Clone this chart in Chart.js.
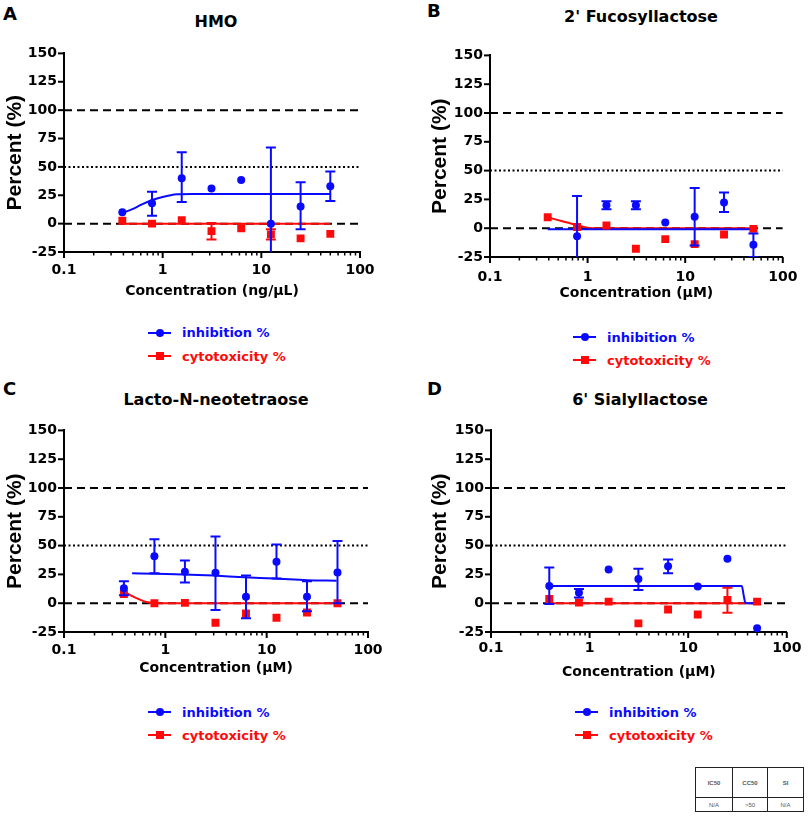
<!doctype html>
<html lang="en">
<head>
  <meta charset="utf-8">
  <title>HMO antiviral inhibition and cytotoxicity</title>
  <script src="https://cdn.jsdelivr.net/npm/chart.js@4.4.1/dist/chart.umd.min.js"></script>
  <style>
    body { margin: 0; background: #fff; font-family: "DejaVu Sans", sans-serif; }
    #page { position: relative; width: 809px; height: 817px; overflow: hidden; }
    #page canvas { position: absolute; }
    .txt { position: absolute; font-weight: bold; line-height: 1; white-space: nowrap; color: #000; }
    .letter { font-size: 18px; }
    .ptitle { font-size: 16px; transform: translateX(-50%); }
    .legtxt { font-size: 13px; }
    .legline { position: absolute; height: 2px; }
    .legmark { position: absolute; width: 8px; height: 8px; }
    table.res { position: absolute; left: 695px; top: 767px; border-collapse: collapse; font-family: "Liberation Sans", sans-serif; font-size: 6px; color: #555; }
    table.res td { border: 1px solid #222; text-align: center; padding: 0; }
  </style>
</head>
<body>
<div id="page">
  <table class="res">
    <tr style="height:30px"><td style="width:36px;font-weight:bold">IC50</td><td style="width:34px;font-weight:bold">CC50</td><td style="width:35px;font-weight:bold">SI</td></tr>
    <tr style="height:14px"><td>N/A</td><td>&gt;50</td><td>N/A</td></tr>
  </table>
</div>

<script>
// concentrations used in every panel
const conc = [0.39, 0.78, 1.56, 3.125, 6.25, 12.5, 25, 50];

// x axis ticks
const xMajorTicks = [0.1, 1, 10, 100];
const xTickLabels = ["0.1", "1", "10", "100"];
const xMinorTicks = [0.2, 0.3, 0.4, 0.5, 0.6, 0.7, 0.8, 0.9, 2, 3, 4, 5, 6, 7, 8, 9, 20, 30, 40, 50, 60, 70, 80, 90];

// A - HMO
const hmoInhib = [10, 18, 40, 31, 38.5, 0, 15, 33];
const hmoInhibLow = [null, 7, 19, null, null, -30, -5, 20];
const hmoInhibHigh = [null, 28, 63, null, null, 67, 36.5, 46];
const hmoCyto = [2.6, 0, 3, -6.6, -4, -9.5, -13, -9];
const hmoCytoLow = [null, null, null, -14, null, -14, null, null];
const hmoCytoHigh = [null, null, null, 0.5, null, -5, null, null];
const hmoInhibFitX = [0.39, 0.5, 0.6, 0.8, 1.0, 1.4, 2, 50];
const hmoInhibFitY = [9.5, 13, 16.5, 21, 23.5, 25.8, 26.2, 26.2];
const hmoCytoFitX = [0.39, 50];
const hmoCytoFitY = [0, 0];

// B - 2' Fucosyllactose
const fucInhib = [null, -7, 20, 20, 5, 10, 22.4, -14.4];
const fucInhibLow = [null, -30, 16.4, 16.5, null, -15, 14, -25];
const fucInhibHigh = [null, 28, 23.5, 23.5, null, 35, 31, -4.6];
const fucCyto = [9.5, 1, 2.3, -17.8, -9.5, -13.8, -5.5, -0.6];
const fucInhibFitX = [0.39, 50];
const fucInhibFitY = [-1, -1];
const fucCytoFitX = [0.39, 0.55, 0.8, 1.0, 1.3, 50];
const fucCytoFitY = [9.5, 6, 2.5, 0.5, 0, 0];

// C - Lacto-N-neotetraose
const lntInhib = [13, 40.8, 27.3, 26.4, 5.7, 36, 5.7, 26.7];
const lntInhibLow = [7, 26, 18, -6, -13, 21.5, -7, 0];
const lntInhibHigh = [19, 55.5, 37, 58, 24, 51, 19, 54];
const lntCyto = [8, 0, 0.3, -17, -9, -12.6, -8, 0];
const lntInhibFitX = [0.47, 0.8, 1.5, 3, 6, 12, 25, 49];
const lntInhibFitY = [26, 25.5, 25, 24, 22.5, 21.5, 20, 19.5];
const lntCytoFitX = [0.39, 0.5, 0.65, 0.8, 50];
const lntCytoFitY = [10, 5, 1, 0, 0];

// D - 6' Sialyllactose
const sialInhib = [15, 9, 29.3, 21, 32, 14.4, 38.5, -21.8];
const sialInhibLow = [-0.6, 5, null, 11.5, 26, null, null, null];
const sialInhibHigh = [31, 12.4, null, 30, 38, null, null, null];
const sialCyto = [3.7, 0.6, 1.4, -17.5, -5.5, -9.8, 2.9, 1.4];
const sialCytoLow = [null, null, null, null, null, null, -8.3, null];
const sialCytoHigh = [null, null, null, null, null, null, 13.5, null];
const sialInhibFitX = [0.39, 35, 36.5, 38, 40, 50];
const sialInhibFitY = [15, 15, 7, 0.5, 0, 0];
const sialCytoFitX = [0.39, 50];
const sialCytoFitY = [0, 0];

const BLUE = "#0a0aff";
const RED = "#ff0a0a";

Chart.defaults.font.family = "'DejaVu Sans', sans-serif";
Chart.defaults.color = "#000";

function pts(xs, ys) {
  return xs.map((x, i) => ({ x: x, y: ys[i] })).filter(p => p.y !== null);
}

// error bars and axis tick marks, positioned through the chart scales
const extrasPlugin = {
  id: "extras",
  afterDatasetsDraw(chart) {
    const ctx = chart.ctx, xs = chart.scales.x, ys = chart.scales.y, a = chart.chartArea;
    ctx.save();
    ctx.beginPath();
    ctx.rect(a.left, a.top - 3, a.right - a.left + 3, a.bottom - a.top + 3);
    ctx.clip();
    ctx.lineWidth = 2;
    chart.data.datasets.forEach(ds => {
      if (!ds.errLow) return;
      ctx.strokeStyle = ds.borderColor;
      conc.forEach((c, i) => {
        const lo = ds.errLow[i], hi = ds.errHigh[i];
        if (lo === null || lo === undefined) return;
        const x = xs.getPixelForValue(c);
        const y1 = ys.getPixelForValue(lo), y2 = ys.getPixelForValue(hi);
        ctx.beginPath();
        ctx.moveTo(x, y1); ctx.lineTo(x, y2);
        ctx.moveTo(x - 5, y1); ctx.lineTo(x + 5, y1);
        ctx.moveTo(x - 5, y2); ctx.lineTo(x + 5, y2);
        ctx.stroke();
      });
    });
    ctx.restore();

    ctx.save();
    ctx.strokeStyle = "#000";
    ctx.lineWidth = 2;
    ys.ticks.forEach(t => {
      const y = ys.getPixelForValue(t.value);
      ctx.beginPath(); ctx.moveTo(a.left - 6, y); ctx.lineTo(a.left, y); ctx.stroke();
    });
    xMajorTicks.forEach(v => {
      const x = xs.getPixelForValue(v);
      ctx.beginPath(); ctx.moveTo(x, a.bottom); ctx.lineTo(x, a.bottom + 6); ctx.stroke();
    });
    ctx.lineWidth = 1.5;
    xMinorTicks.forEach(v => {
      const x = xs.getPixelForValue(v);
      ctx.beginPath(); ctx.moveTo(x, a.bottom); ctx.lineTo(x, a.bottom + 3.5); ctx.stroke();
    });
    ctx.restore();
  }
};

const panels = [
  { letter: "A", title: "HMO", xTitle: "Concentration (ng/\u00b5L)",
    left: 0, top: 38, width: 400, areaL: 64, areaR: 360, areaT: 52, areaB: 252,
    tickPad: 9.6, xTitlePad: 12.6, yTitlePad: 2.4,
    letterX: 3, letterY: 4.8, titleX: 216, titleY: 13.5,
    legX: 148, legY: 333, legTextY: 326,
    inhib: hmoInhib, inhibLow: hmoInhibLow, inhibHigh: hmoInhibHigh,
    cyto: hmoCyto, cytoLow: hmoCytoLow, cytoHigh: hmoCytoHigh,
    inhibFit: pts(hmoInhibFitX, hmoInhibFitY), cytoFit: pts(hmoCytoFitX, hmoCytoFitY) },
  { letter: "B", title: "2' Fucosyllactose", xTitle: "Concentration (\u00b5M)",
    left: 405, top: 40, width: 404, areaL: 490, areaR: 795, areaT: 54, areaB: 257,
    tickPad: 11.6, xTitlePad: 15.6, yTitlePad: 22.4,
    letterX: 427, letterY: 2, titleX: 641, titleY: 8.5,
    legX: 573, legY: 337, legTextY: 330.5,
    inhib: fucInhib, inhibLow: fucInhibLow, inhibHigh: fucInhibHigh,
    cyto: fucCyto, cytoLow: null, cytoHigh: null,
    inhibFit: pts(fucInhibFitX, fucInhibFitY), cytoFit: pts(fucCytoFitX, fucCytoFitY) },
  { letter: "C", title: "Lacto-N-neotetraose", xTitle: "Concentration (\u00b5M)",
    left: 0, top: 415, width: 400, areaL: 64, areaR: 368, areaT: 429, areaB: 632,
    tickPad: 9.6, xTitlePad: 15.6, yTitlePad: 2.4,
    letterX: 3, letterY: 380, titleX: 216, titleY: 391.5,
    legX: 148, legY: 712, legTextY: 705.5,
    inhib: lntInhib, inhibLow: lntInhibLow, inhibHigh: lntInhibHigh,
    cyto: lntCyto, cytoLow: null, cytoHigh: null,
    inhibFit: pts(lntInhibFitX, lntInhibFitY), cytoFit: pts(lntCytoFitX, lntCytoFitY) },
  { letter: "D", title: "6' Sialyllactose", xTitle: "Concentration (\u00b5M)",
    left: 405, top: 415, width: 404, areaL: 491, areaR: 796, areaT: 429, areaB: 632,
    tickPad: 7.6, xTitlePad: 11.6, yTitlePad: 22.4,
    letterX: 427, letterY: 380, titleX: 640, titleY: 391.5,
    legX: 575, legY: 712, legTextY: 705.5,
    inhib: sialInhib, inhibLow: sialInhibLow, inhibHigh: sialInhibHigh,
    cyto: sialCyto, cytoLow: sialCytoLow, cytoHigh: sialCytoHigh,
    inhibFit: pts(sialInhibFitX, sialInhibFitY), cytoFit: pts(sialCytoFitX, sialCytoFitY) }
];

const page = document.getElementById("page");

function addText(cls, text, x, y, color) {
  const d = document.createElement("div");
  d.className = "txt " + cls;
  d.textContent = text;
  d.style.left = x + "px";
  d.style.top = y + "px";
  if (color) d.style.color = color;
  page.appendChild(d);
}

function addLegendRow(x, y, textY, color, square, label) {
  const line = document.createElement("div");
  line.className = "legline";
  line.style.left = x + "px";
  line.style.top = (y - 1) + "px";
  line.style.width = "23px";
  line.style.background = color;
  page.appendChild(line);
  const mk = document.createElement("div");
  mk.className = "legmark";
  mk.style.left = (x + 8) + "px";
  mk.style.top = (y - 4) + "px";
  mk.style.background = color;
  if (!square) mk.style.borderRadius = "50%";
  page.appendChild(mk);
  addText("legtxt", label, x + 34, textY, color);
}

function refLine(y, dash) {
  return { type: "line", data: [{ x: 0.1, y: y }, { x: 100, y: y }], borderColor: "#000",
    borderWidth: 2, borderDash: dash, pointRadius: 0, order: 10 };
}

panels.forEach(p => {
  addText("letter", p.letter, p.letterX, p.letterY);
  addText("ptitle", p.title, p.titleX, p.titleY);
  addLegendRow(p.legX, p.legY, p.legTextY, BLUE, false, "inhibition %");
  addLegendRow(p.legX, p.legY + 23, p.legTextY + 23.5, RED, true, "cytotoxicity %");

  const cv = document.createElement("canvas");
  const h = p.areaB + 60 - p.top;
  cv.style.left = p.left + "px";
  cv.style.top = p.top + "px";
  cv.style.width = p.width + "px";
  cv.style.height = h + "px";
  cv.width = p.width;
  cv.height = h;
  page.appendChild(cv);

  new Chart(cv.getContext("2d"), {
    type: "line",
    data: {
      datasets: [
        refLine(100, [8, 5]),
        refLine(50, [2, 2.5]),
        refLine(0, [8, 5]),
        { data: p.cytoFit, borderColor: RED, borderWidth: 2, pointRadius: 0,
          cubicInterpolationMode: "monotone", order: 6 },
        { data: p.inhibFit, borderColor: BLUE, borderWidth: 2, pointRadius: 0,
          cubicInterpolationMode: "monotone", order: 5 },
        { data: pts(conc, p.cyto), showLine: false, pointStyle: "rect", pointRadius: 5.6,
          backgroundColor: RED, borderColor: RED, borderWidth: 0,
          errLow: p.cytoLow, errHigh: p.cytoHigh, order: 2 },
        { data: pts(conc, p.inhib), showLine: false, pointStyle: "circle", pointRadius: 4,
          backgroundColor: BLUE, borderColor: BLUE, borderWidth: 0,
          errLow: p.inhibLow, errHigh: p.inhibHigh, order: 1 }
      ]
    },
    options: {
      animation: false,
      responsive: false,
      devicePixelRatio: 1,
      parsing: false,
      layout: { padding: { top: p.areaT - p.top, right: p.left + p.width - p.areaR, left: 0, bottom: 0 } },
      plugins: { legend: { display: false }, tooltip: { enabled: false } },
      scales: {
        x: {
          type: "logarithmic", min: 0.1, max: 100,
          grid: { display: false, drawTicks: false },
          border: { display: true, color: "#000", width: 2 },
          afterBuildTicks: s => { s.ticks = xMajorTicks.map(v => ({ value: v, major: true })); },
          afterFit: s => { s.height = 60; },
          ticks: {
            autoSkip: false, maxRotation: 0, padding: p.tickPad, color: "#000",
            font: { size: 14, weight: "bold" },
            callback: (v, i) => xTickLabels[i]
          },
          title: { display: true, text: p.xTitle, color: "#000",
            font: { size: 14, weight: "bold" }, padding: { top: 0, bottom: p.xTitlePad } }
        },
        y: {
          min: -25, max: 150,
          grid: { display: false, drawTicks: false },
          border: { display: true, color: "#000", width: 2 },
          afterFit: s => { s.width = p.areaL - p.left; },
          ticks: { stepSize: 25, padding: 7, color: "#000", font: { size: 14, weight: "bold" } },
          title: { display: true, text: "Percent (%)", color: "#000",
            font: { family: "'Liberation Sans', sans-serif", size: 21, weight: "bold" },
            padding: { top: p.yTitlePad, bottom: 0 } }
        }
      }
    },
    plugins: [extrasPlugin]
  });
});
</script>
</body>
</html>
